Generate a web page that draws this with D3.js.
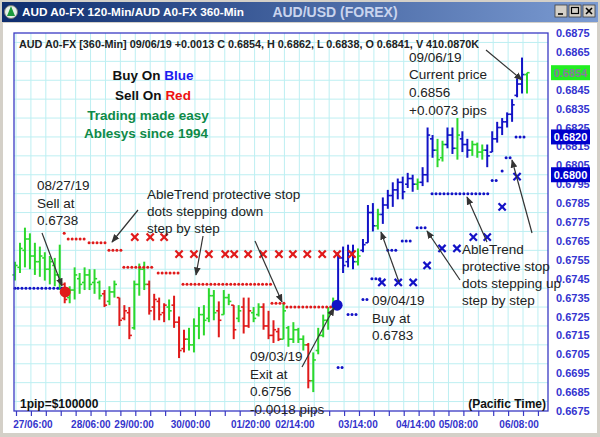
<!DOCTYPE html>
<html><head><meta charset="utf-8">
<script src="https://cdn.jsdelivr.net/npm/d3@7"></script>
<style>body{margin:0;background:#fff;} svg{display:block;font-family:Arial,"Liberation Sans",sans-serif;}</style>
</head><body><svg id="c" width="600" height="437"></svg>
<script>
// ---------- DATA ----------
// signal colour per 120-min bar: G neutral, R sell, B buy
const signals = ("GGGGGGGGGG"+"R"+"GGGGGGG"+"R"+"GG"+"RRR"+"GGG"+"RRRR"+"G"+"RRR"+"GGGGGG"+"R"+"GG"+"R"+"G"+"RR"+"GG"+"RRRR"+"GGGGG"+"R"+"GGGGG"+"BBBB"+"G"+"BBB"+"G"+"BBBBBBB"+"G"+"BBB"+"GG"+"BB"+"G"+"BB"+"GGG"+"BBBBBBBB"+"G").split("");
const highs = [0.6754,0.6764,0.6772,0.6769,0.6764,0.6762,0.6759,0.6757,0.6756,0.6763,
 0.6743,0.6741,0.6751,0.6748,0.6751,0.6750,0.6750,0.6744,0.6739,0.6741,
 0.6744,0.6735,0.6731,0.6730,0.6744,0.6753,0.6754,0.6744,0.6737,0.6735,
 0.6732,0.6734,0.6736,0.6725,0.6718,0.6719,0.6724,0.6730,0.6731,0.6740,
 0.6739,0.6733,0.6739,0.6737,0.6731,0.6731,0.6735,0.6735,0.6730,0.6732,
 0.6732,0.6728,0.6723,0.6719,0.6732,0.6720,0.6722,0.6719,0.6715,0.6711,
 0.6706,0.6719,0.6726,0.6730,0.6735,0.6759,0.6762,0.6763,0.6763,0.6761,
 0.6766,0.6784,0.6785,0.6782,0.6788,0.6792,0.6796,0.6798,0.6799,0.6801,
 0.6800,0.6798,0.6804,0.6825,0.6821,0.6819,0.6818,0.6825,0.6825,0.6830,
 0.6823,0.6819,0.6818,0.6817,0.6816,0.6816,0.6823,0.6828,0.6830,0.6833,
 0.6840,0.6851,0.6862,0.6854];
const lows = [0.6744,0.6748,0.6751,0.6750,0.6747,0.6746,0.6744,0.6742,0.6741,0.6739,
 0.6732,0.6732,0.6734,0.6737,0.6739,0.6739,0.6737,0.6734,0.6730,0.6731,
 0.6735,0.6720,0.6723,0.6713,0.6718,0.6736,0.6739,0.6726,0.6723,0.6723,
 0.6722,0.6723,0.6719,0.6703,0.6706,0.6707,0.6706,0.6713,0.6715,0.6722,
 0.6723,0.6714,0.6726,0.6731,0.6713,0.6722,0.6716,0.6719,0.6722,0.6725,
 0.6718,0.6713,0.6711,0.6712,0.6713,0.6709,0.6711,0.6711,0.6707,0.6687,
 0.6685,0.6705,0.6714,0.6718,0.6728,0.6731,0.6748,0.6751,0.6750,0.6752,
 0.6759,0.6764,0.6770,0.6771,0.6774,0.6782,0.6783,0.6787,0.6787,0.6793,
 0.6791,0.6792,0.6794,0.6796,0.6809,0.6804,0.6807,0.6814,0.6811,0.6808,
 0.6812,0.6809,0.6810,0.6809,0.6808,0.6804,0.6812,0.6817,0.6821,0.6825,
 0.6828,0.6841,0.6843,0.6843];
const opens = [0.6747,0.6751,0.6760,0.6766,0.6757,0.6754,0.6756,0.6750,0.6752,0.6747,
 0.6742,0.6735,0.6739,0.6745,0.6743,0.6747,0.6743,0.6743,0.6737,0.6733,
 0.6738,0.6735,0.6724,0.6727,0.6719,0.6742,0.6750,0.6742,0.6730,0.6733,
 0.6727,0.6730,0.6731,0.6722,0.6708,0.6713,0.6710,0.6720,0.6726,0.6724,
 0.6736,0.6728,0.6726,0.6735,0.6731,0.6724,0.6730,0.6720,0.6727,0.6726,
 0.6730,0.6720,0.6715,0.6717,0.6713,0.6719,0.6713,0.6718,0.6713,0.6710,
 0.6691,0.6707,0.6715,0.6723,0.6730,0.6732,0.6756,0.6754,0.6759,0.6754,
 0.6760,0.6764,0.6780,0.6773,0.6779,0.6784,0.6789,0.6792,0.6796,0.6795,
 0.6798,0.6795,0.6796,0.6800,0.6819,0.6813,0.6809,0.6816,0.6821,0.6814,
 0.6819,0.6816,0.6813,0.6816,0.6812,0.6813,0.6812,0.6819,0.6825,0.6828,
 0.6832,0.6842,0.6848,0.6853];
const closes = [0.6752,0.6761,0.6766,0.6757,0.6754,0.6757,0.6750,0.6754,0.6747,0.6743,
 0.6734,0.6739,0.6747,0.6742,0.6747,0.6742,0.6745,0.6736,0.6731,0.6738,
 0.6742,0.6723,0.6728,0.6715,0.6742,0.6750,0.6742,0.6728,0.6734,0.6726,
 0.6731,0.6728,0.6722,0.6707,0.6713,0.6710,0.6720,0.6726,0.6723,0.6736,
 0.6727,0.6723,0.6735,0.6733,0.6718,0.6728,0.6720,0.6728,0.6724,0.6730,
 0.6720,0.6715,0.6718,0.6713,0.6728,0.6713,0.6718,0.6713,0.6710,0.6691,
 0.6702,0.6715,0.6723,0.6726,0.6733,0.6756,0.6752,0.6759,0.6754,0.6757,
 0.6763,0.6780,0.6773,0.6779,0.6784,0.6789,0.6792,0.6796,0.6791,0.6798,
 0.6795,0.6796,0.6800,0.6821,0.6813,0.6808,0.6816,0.6821,0.6814,0.6821,
 0.6816,0.6813,0.6816,0.6812,0.6813,0.6810,0.6819,0.6825,0.6828,0.6832,
 0.6837,0.6848,0.6853,0.6854];

// protective stop dots (bar index range, level)
const sellStopStart = [9.9, 10.7, 14.9, 18.9, 21.9, 28.8, 33.8, 51.7, 54.7];
const sellStopEnd   = [9.9, 14.1, 18.5, 21.5, 28.2, 33.2, 51.9, 54.3, 64.0];
const sellStopLevel = [0.6769, 0.6766, 0.6764, 0.6760, 0.6751, 0.6748, 0.6742, 0.6732, 0.6730];
const buyStopStart = [-0.2, 65, 67, 70, 71.8, 75, 77.9, 80.9, 83.9, 96, 98, 98.8, 100.8];
const buyStopEnd   = [9.5, 66, 69, 71, 74, 77, 79.9, 82.9, 95.2, 97, 98, 100, 103];
const buyStopLevel = [0.6740, 0.6698, 0.6726, 0.6734, 0.6745, 0.6760, 0.6765, 0.6772, 0.6790, 0.6797, 0.6802, 0.6809, 0.6820];
// X marks (bar index, level)
const sellXIdx = [24.1, 27.2, 30.0, 33.0, 36.0, 39.0, 42.3, 44.1, 46.9, 49.9, 53.1, 55.9, 58.8, 61.8, 64.8, 67.8];
const sellXLevel = [0.6767, 0.6767, 0.6767, 0.6758, 0.6758, 0.6758, 0.6758, 0.6758, 0.6758, 0.6758, 0.6758, 0.6758, 0.6758, 0.6758, 0.6758, 0.6758];
const buyXIdx = [73.8, 77.1, 80.1, 82.9, 85.9, 88.9, 92.2, 95.0, 98.0, 101.0];
const buyXLevel = [0.6743, 0.6743, 0.6743, 0.6752, 0.6761, 0.6761, 0.6767, 0.6767, 0.6783, 0.6799];
// entry / exit signals
const signalIdx = [10.1, 64.8];
const signalLevel = [0.6738, 0.6731];
const signalType = ["R", "B"];
// axis labels (0.6855 is hidden behind the last-price marker in the reference)
const priceTicks = [0.6875,0.6865,0.6845,0.6835,0.6825,0.6815,0.6805,0.6795,0.6785,0.6775,0.6765,0.6755,0.6745,0.6735,0.6725,0.6715,0.6705,0.6695,0.6685,0.6675];
const timeLabels = ["27/06:00","28/06:00","29/00:00","30/00:00","01/20:00","02/14:00","03/14:00","04/14:00","05/08:00","06/08:00"];
const timeLabelIdx = [3.5, 15.15, 23.85, 35.2, 47.3, 56.2, 68.9, 80.5, 89.1, 101.3];
const markerLevels = [0.6854, 0.6820, 0.6800];
const markerKinds = ["last", "stop", "stop"];

// ---------- DRAW ----------
const svg = d3.select("#c");
const x = d3.scaleLinear().domain([0, 103]).range([15, 527]);
const y = d3.scaleLinear().domain([0.6675, 0.6875]).range([411, 33]);
const col = {G: "#2cd82c", R: "#e01a1a", B: "#1212c6"};
const P = {l: 14, r: 548, t: 33, b: 411};

// window chrome
svg.append("rect").attr("width", 600).attr("height", 437).attr("fill", "#d4d0c8");
const grad = svg.append("defs").append("linearGradient").attr("id", "tb");
grad.append("stop").attr("offset", "0%").attr("stop-color", "#0e2d6e");
grad.append("stop").attr("offset", "100%").attr("stop-color", "#7b9bd2");
svg.append("rect").attr("x", 2).attr("y", 2).attr("width", 596).attr("height", 20).attr("fill", "url(#tb)");
svg.append("rect").attr("x", 3).attr("y", 23).attr("width", 594).attr("height", 410).attr("fill", "#fff");
svg.append("circle").attr("cx", 11).attr("cy", 12).attr("r", 6.5).attr("fill", "#e8f0e8").attr("stroke", "#777");
svg.append("path").attr("d", "M7,16 L11,6 L15,16 Z").attr("fill", "#1c9a3c");
svg.append("text").attr("x", 22).attr("y", 16).attr("fill", "#fff").attr("font-weight", "bold").attr("font-size", 10.5)
  .attr("textLength", 222).attr("lengthAdjust", "spacingAndGlyphs").text("AUD A0-FX 120-Min/AUD A0-FX 360-Min");
svg.append("text").attr("x", 335).attr("y", 17).attr("text-anchor", "middle").attr("fill", "#c9d4ee").attr("font-weight", "bold").attr("font-size", 14).text("AUD/USD (FOREX)");
[555, 569, 583].forEach((bx, k) => {
  svg.append("rect").attr("x", bx).attr("y", 5).attr("width", 12).attr("height", 12).attr("fill", "#d4d0c8").attr("stroke", "#404040").attr("stroke-width", 0.8);
  const g = svg.append("g").attr("stroke", "#000").attr("stroke-width", 1.6).attr("fill", "none");
  if (k === 0) g.append("line").attr("x1", bx + 3).attr("x2", bx + 8).attr("y1", 14).attr("y2", 14);
  if (k === 1) g.append("rect").attr("x", bx + 2.5).attr("y", 7.5).attr("width", 7).attr("height", 6).attr("stroke-width", 1.2);
  if (k === 2) { g.append("line").attr("x1", bx + 3).attr("x2", bx + 9).attr("y1", 8).attr("y2", 14); g.append("line").attr("x1", bx + 9).attr("x2", bx + 3).attr("y1", 8).attr("y2", 14); }
});

// grid
const gridIdx = d3.range(0.2, 107, 3);
const grid = svg.append("g").attr("stroke", "#bdeff2").attr("stroke-width", 1);
grid.selectAll(".v").data(gridIdx).join("line").attr("x1", d => x(d)).attr("x2", d => x(d)).attr("y1", P.t).attr("y2", P.b);
grid.selectAll(".h").data(d3.range(0.6680, 0.68705, 0.001)).join("line").attr("x1", P.l).attr("x2", P.r).attr("y1", d => y(d)).attr("y2", d => y(d));

// bottom axis: minor ticks + labels
const ax1 = svg.append("g").attr("transform", `translate(0,${P.b})`).call(d3.axisBottom(x).tickValues(gridIdx).tickSize(5).tickFormat(""));
ax1.select(".domain").remove();
ax1.selectAll("line").attr("stroke", "#3a3ac4").attr("stroke-width", 1.2);
const ax2 = svg.append("g").attr("transform", `translate(0,${P.b})`).call(d3.axisBottom(x).tickValues(timeLabelIdx).tickSize(0).tickPadding(10).tickFormat((d, i) => timeLabels[i]));
ax2.select(".domain").remove();
ax2.selectAll("text").attr("fill", "#3434cc").attr("font-weight", "bold").attr("font-size", 10).attr("font-family", "Arial,'Liberation Sans',sans-serif");

// right price axis
const ay = svg.append("g").attr("transform", `translate(556,0)`).call(d3.axisRight(y).tickValues(priceTicks).tickSize(0).tickPadding(0).tickFormat(d3.format(".4f")));
ay.select(".domain").remove();
ay.selectAll("text").attr("fill", "#3434d0").attr("font-weight", "bold").attr("font-size", 11).attr("font-family", "Arial,'Liberation Sans',sans-serif");

// header text
svg.append("text").attr("x", 19).attr("y", 48).attr("fill", "#222").attr("font-weight", "bold").attr("font-size", 10)
  .attr("textLength", 460).attr("lengthAdjust", "spacingAndGlyphs")
  .text("AUD A0-FX [360-Min] 09/06/19  +0.0013 C 0.6854, H 0.6862, L 0.6838, O 0.6841, V 410.0870K");

// OHLC bars
const bars = svg.append("g").attr("stroke-width", 2);
signals.forEach((s, i) => {
  const c = col[s];
  bars.append("line").attr("x1", x(i)).attr("x2", x(i)).attr("y1", y(highs[i])).attr("y2", y(lows[i])).attr("stroke", c);
  bars.append("line").attr("x1", x(i) - 2.6).attr("x2", x(i)).attr("y1", y(opens[i])).attr("y2", y(opens[i])).attr("stroke", c).attr("stroke-width", 1.6);
  bars.append("line").attr("x1", x(i)).attr("x2", x(i) + 2.6).attr("y1", y(closes[i])).attr("y2", y(closes[i])).attr("stroke", c).attr("stroke-width", 1.6);
});

// stop dots
function stopDots(starts, ends, levels, color) {
  const pts = [];
  starts.forEach((s, k) => d3.range(s, ends[k] + 1e-6, 0.8).forEach(v => pts.push([v, levels[k]])));
  svg.append("g").selectAll("circle").data(pts).join("circle")
    .attr("cx", d => Math.max(P.l + 1, x(d[0]))).attr("cy", d => y(d[1])).attr("r", 1.5).attr("fill", color);
}
stopDots(sellStopStart, sellStopEnd, sellStopLevel, col.R);
stopDots(buyStopStart, buyStopEnd, buyStopLevel, col.B);

// X marks
function xMarks(idx, lv, color) {
  const g = svg.append("g").attr("stroke", color).attr("stroke-width", 2.2);
  idx.forEach((v, k) => {
    const cx = x(v), cy = y(lv[k]);
    g.append("line").attr("x1", cx - 3.6).attr("x2", cx + 3.6).attr("y1", cy - 3.6).attr("y2", cy + 3.6);
    g.append("line").attr("x1", cx - 3.6).attr("x2", cx + 3.6).attr("y1", cy + 3.6).attr("y2", cy - 3.6);
  });
}
xMarks(sellXIdx, sellXLevel, col.R);
xMarks(buyXIdx, buyXLevel, col.B);

// entry/exit dots
svg.append("g").selectAll("circle").data(signalIdx).join("circle")
  .attr("cx", d => x(d)).attr("cy", (d, i) => y(signalLevel[i])).attr("r", 5.5).attr("fill", (d, i) => col[signalType[i]]);

// frame
svg.append("rect").attr("x", P.l).attr("y", P.t).attr("width", P.r - P.l).attr("height", P.b - P.t)
  .attr("fill", "none").attr("stroke", "#3a3ac4").attr("stroke-width", 1.3);

// slogans
const slog = svg.append("g").attr("font-weight", "bold").attr("font-size", 13.5).attr("text-anchor", "middle");
let t = slog.append("text").attr("x", 153).attr("y", 80);
t.append("tspan").attr("fill", "#111").text("Buy On ");
t.append("tspan").attr("fill", "#1c1cf0").text("Blue");
t = slog.append("text").attr("x", 153).attr("y", 100);
t.append("tspan").attr("fill", "#111").text("Sell On ");
t.append("tspan").attr("fill", "#ee1111").text("Red");
slog.append("text").attr("x", 148).attr("y", 119.5).attr("fill", "#0f8a48").text("Trading made easy");
slog.append("text").attr("x", 146).attr("y", 138).attr("fill", "#0f8a48").text("Ablesys since 1994");

// annotation texts
const notes = [
  {x: 37, y: [190, 207.5, 225], lines: ["08/27/19", "Sell at", "0.6738"]},
  {x: 147, y: [199, 216, 233], lines: ["AbleTrend protective stop", "dots stepping down", "step by step"]},
  {x: 250, y: [361, 378.5, 396, 413.5], lines: ["09/03/19", "Exit at", "0.6756", "-0.0018 pips"]},
  {x: 372, y: [305, 322.5, 340], lines: ["09/04/19", "Buy at", "0.6783"]},
  {x: 462, y: [254, 271, 288, 305], lines: ["AbleTrend", "protective stop", "dots stepping up", "step by step"]},
  {x: 409, y: [61.5, 79, 96.5, 114.5], lines: ["09/06/19", "Current price", "0.6856", "+0.0073 pips"]}
];
const ng = svg.append("g").attr("font-size", 13.5).attr("fill", "#222");
notes.forEach(n => n.lines.forEach((s, k) => ng.append("text").attr("x", n.x).attr("y", n.y[k]).text(s)));

// arrows
const defs = svg.select("defs");
defs.append("marker").attr("id", "ah").attr("viewBox", "0 0 10 10").attr("refX", 9).attr("refY", 5)
  .attr("markerWidth", 7).attr("markerHeight", 7).attr("orient", "auto")
  .append("path").attr("d", "M0,1 L10,5 L0,9 Z").attr("fill", "#333");
const arrows = [
  [42, 233, 62, 286], [138, 210, 112, 242], [203, 236, 196, 275], [255, 241, 282, 302],
  [302, 367, 334, 308], [399, 282, 381, 232], [460, 280, 427, 231], [487, 242, 467, 197],
  [532, 233, 512, 160], [486, 50, 522, 80]
];
svg.append("g").selectAll("line").data(arrows).join("line")
  .attr("x1", d => d[0]).attr("y1", d => d[1]).attr("x2", d => d[2]).attr("y2", d => d[3])
  .attr("stroke", "#333").attr("stroke-width", 1.2).attr("marker-end", "url(#ah)");

// footer labels
svg.append("text").attr("x", 20).attr("y", 408).attr("font-weight", "bold").attr("font-size", 12).attr("fill", "#111").text("1pip=$100000");
svg.append("text").attr("x", 546).attr("y", 408).attr("text-anchor", "end").attr("font-weight", "bold").attr("font-size", 12).attr("fill", "#111").text("(Pacific Time)");

// right-side price markers
const mk = svg.append("g");
markerLevels.forEach((v, k) => {
  const cy = y(v);
  const last = markerKinds[k] === "last";
  mk.append("rect").attr("x", 551).attr("y", cy - 7.5).attr("width", 39).attr("height", 15).attr("fill", last ? "#22ee22" : "#0000cc");
  mk.append("text").attr("x", 570.5).attr("y", cy + 4).attr("text-anchor", "middle").attr("font-weight", "bold").attr("font-size", 11)
    .attr("fill", last ? "#8878a0" : "#fff").text(d3.format(".4f")(v));
});
</script></body></html>
